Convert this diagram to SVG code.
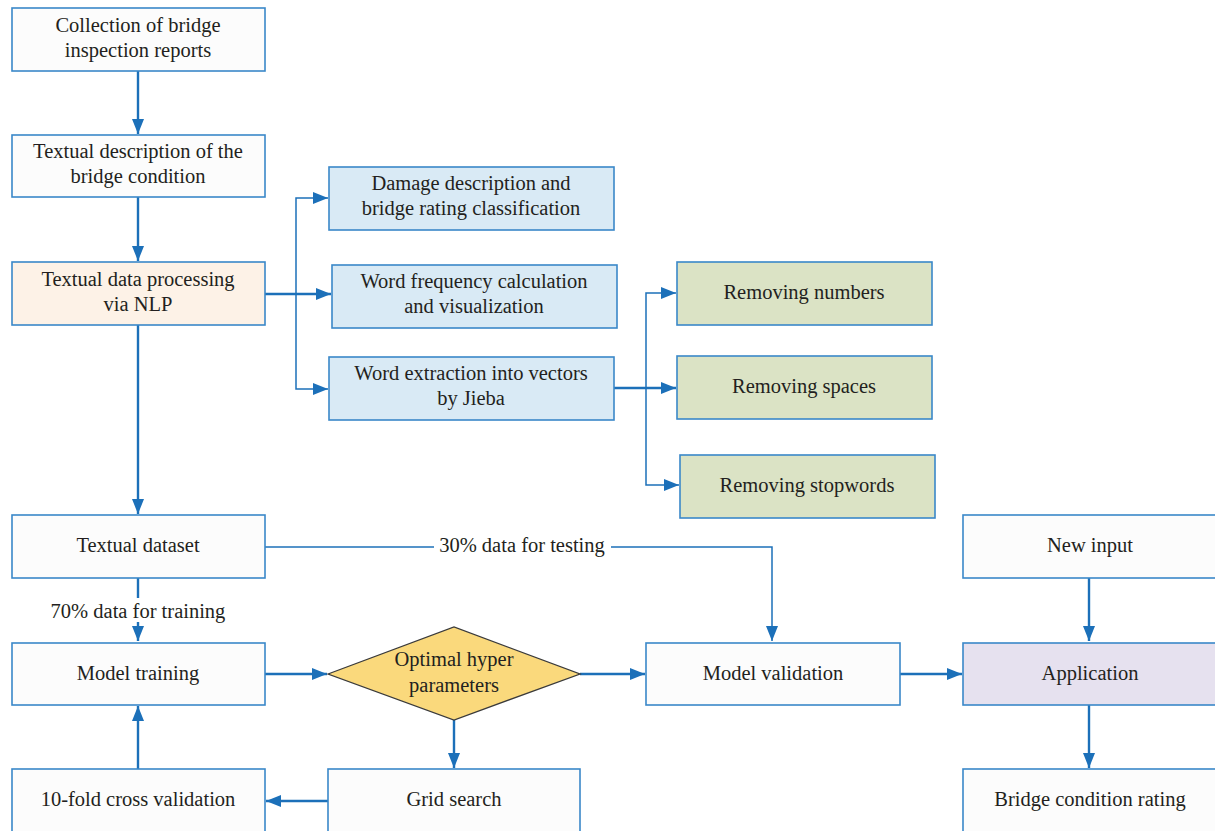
<svg xmlns="http://www.w3.org/2000/svg" width="1215" height="831" viewBox="0 0 1215 831">
<style>
.box{stroke:#3a88c9;stroke-width:1.6}
.w{fill:#fcfcfc}
.nlp{fill:#fdf2e7}
.bl{fill:#d9eaf5}
.gr{fill:#dbe3c5}
.pu{fill:#e6e1ef}
.dia{fill:#fad97c;stroke:#3a3a3a;stroke-width:1.3}
text{font-family:"Liberation Serif","Times New Roman",serif;font-size:20.5px;fill:#231f20;text-anchor:middle}
.c{fill:none;stroke:#1c70b9;stroke-width:2.4}
.t{fill:none;stroke:#1c70b9;stroke-width:1.5}
</style>
<defs>
<marker id="ah" markerUnits="userSpaceOnUse" markerWidth="16" markerHeight="12" refX="15" refY="6" orient="auto">
<path d="M0,0 L15,6 L0,12 Z" fill="#1c70b9"/>
</marker>
</defs>
<rect width="1215" height="831" fill="#ffffff"/>
<g id="connectors">
<line class="c" x1="138" y1="71" x2="138" y2="134" marker-end="url(#ah)"/>
<line class="c" x1="138" y1="197" x2="138" y2="261" marker-end="url(#ah)"/>
<line class="c" x1="138" y1="325" x2="138" y2="514" marker-end="url(#ah)"/>
<line class="c" x1="265" y1="294" x2="331" y2="294" marker-end="url(#ah)"/>
<polyline class="t" points="296,294 296,198 328,198" marker-end="url(#ah)"/>
<polyline class="t" points="296,294 296,389 328,389" marker-end="url(#ah)"/>
<line class="c" x1="614" y1="388" x2="676" y2="388" marker-end="url(#ah)"/>
<polyline class="t" points="646,388 646,293 676,293" marker-end="url(#ah)"/>
<polyline class="t" points="646,388 646,485 679,485" marker-end="url(#ah)"/>
<line class="c" x1="138" y1="578" x2="138" y2="598"/>
<line class="c" x1="138" y1="622" x2="138" y2="641" marker-end="url(#ah)"/>
<line class="t" x1="265" y1="547" x2="434" y2="547"/>
<polyline class="t" points="611,547 772,547 772,641" marker-end="url(#ah)"/>
<line class="c" x1="265" y1="674" x2="327" y2="674" marker-end="url(#ah)"/>
<line class="c" x1="580" y1="674" x2="645" y2="674" marker-end="url(#ah)"/>
<line class="c" x1="900" y1="674" x2="962" y2="674" marker-end="url(#ah)"/>
<line class="c" x1="454" y1="720" x2="454" y2="768" marker-end="url(#ah)"/>
<line class="c" x1="328" y1="801" x2="266" y2="801" marker-end="url(#ah)"/>
<line class="c" x1="138" y1="769" x2="138" y2="706" marker-end="url(#ah)"/>
<line class="c" x1="1089" y1="578" x2="1089" y2="641" marker-end="url(#ah)"/>
<line class="c" x1="1089" y1="705" x2="1089" y2="768" marker-end="url(#ah)"/>
<text x="138" y="618">70% data for training</text>
<text x="522" y="552">30% data for testing</text>
</g>
<g id="n-collection"><rect class="box w" x="12" y="8" width="253" height="63"/><text x="138" y="32">Collection of bridge</text><text x="138" y="57">inspection reports</text></g>
<g id="n-textual-desc"><rect class="box w" x="12" y="135" width="253" height="62"/><text x="138" y="158">Textual description of the</text><text x="138" y="183">bridge condition</text></g>
<g id="n-nlp"><rect class="box nlp" x="12" y="262" width="253" height="63"/><text x="138" y="286">Textual data processing</text><text x="138" y="311">via NLP</text></g>
<g id="n-damage"><rect class="box bl" x="329" y="167" width="285" height="63"/><text x="471" y="190">Damage description and</text><text x="471" y="215">bridge rating classification</text></g>
<g id="n-wordfreq"><rect class="box bl" x="332" y="265" width="285" height="63"/><text x="474" y="288">Word frequency calculation</text><text x="474" y="313">and visualization</text></g>
<g id="n-wordext"><rect class="box bl" x="329" y="357" width="285" height="63"/><text x="471" y="380">Word extraction into vectors</text><text x="471" y="405">by Jieba</text></g>
<g id="n-numbers"><rect class="box gr" x="677" y="262" width="255" height="63"/><text x="804" y="299">Removing numbers</text></g>
<g id="n-spaces"><rect class="box gr" x="677" y="356" width="255" height="63"/><text x="804" y="393">Removing spaces</text></g>
<g id="n-stopwords"><rect class="box gr" x="680" y="455" width="255" height="63"/><text x="807" y="492">Removing stopwords</text></g>
<g id="n-dataset"><rect class="box w" x="12" y="515" width="253" height="63"/><text x="138" y="552">Textual dataset</text></g>
<g id="n-training"><rect class="box w" x="12" y="643" width="253" height="62"/><text x="138" y="680">Model training</text></g>
<g id="n-hyper"><polygon class="dia" points="328,674 454,627 580,674 454,720"/><text x="454" y="666">Optimal hyper</text><text x="454" y="692">parameters</text></g>
<g id="n-validation"><rect class="box w" x="646" y="643" width="254" height="62"/><text x="773" y="680">Model validation</text></g>
<g id="n-application"><rect class="box pu" x="963" y="643" width="253" height="62"/><text x="1090" y="680">Application</text></g>
<g id="n-newinput"><rect class="box w" x="963" y="515" width="253" height="63"/><text x="1090" y="552">New input</text></g>
<g id="n-crossval"><rect class="box w" x="12" y="769" width="253" height="70"/><text x="138" y="806">10-fold cross validation</text></g>
<g id="n-grid"><rect class="box w" x="328" y="769" width="252" height="70"/><text x="454" y="806">Grid search</text></g>
<g id="n-rating"><rect class="box w" x="963" y="769" width="253" height="70"/><text x="1090" y="806">Bridge condition rating</text></g>
</svg>
